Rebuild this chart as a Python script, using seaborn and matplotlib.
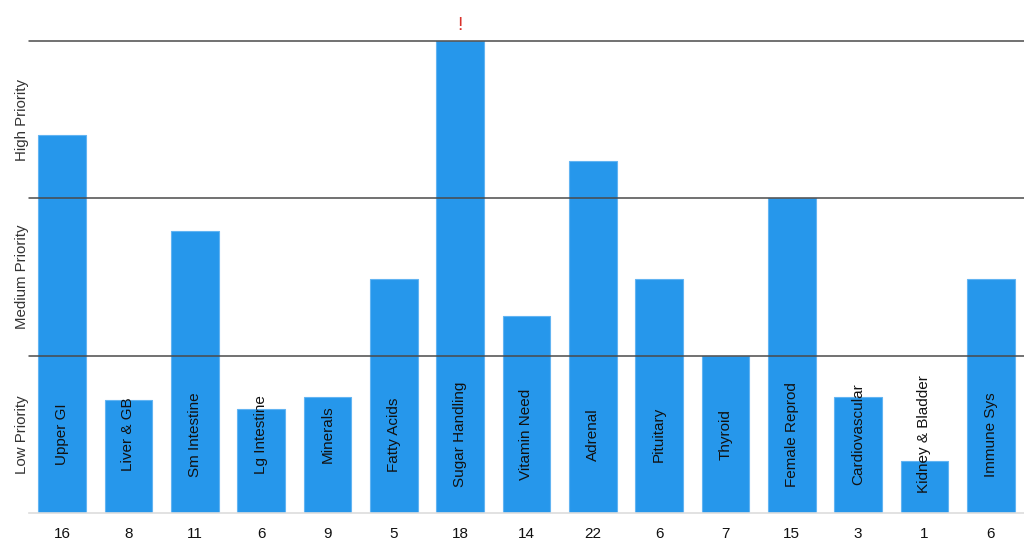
import matplotlib
matplotlib.use("Agg")
import matplotlib.pyplot as plt
import seaborn as sns
import pandas as pd

systems = ["Upper GI", "Liver & GB", "Sm Intestine", "Lg Intestine", "Minerals",
           "Fatty Acids", "Sugar Handling", "Vitamin Need", "Adrenal", "Pituitary",
           "Thyroid", "Female Reprod", "Cardiovascular", "Kidney & Bladder", "Immune Sys"]
scores = [16, 8, 11, 6, 9, 5, 18, 14, 22, 6, 7, 15, 3, 1, 6]
levels = [2.40, 0.72, 1.79, 0.66, 0.74, 1.49, 3.0, 1.25, 2.24, 1.49, 1.0, 2.0, 0.74, 0.33, 1.49]
priority_labels = ["Low Priority", "Medium Priority", "High Priority"]

sns.set_theme(style="white")
plt.rcParams["font.family"] = ["Liberation Sans", "DejaVu Sans"]

df = pd.DataFrame({"system": systems, "level": levels})

fig = plt.figure(figsize=(10.24, 5.51), dpi=100)
ax = fig.add_axes([29 / 1024, 38 / 551, 995 / 1024, 472 / 551])

sns.barplot(data=df, x="system", y="level", color="#2697EB", saturation=1,
            width=0.72, edgecolor="#62B4F2", linewidth=0.8, ax=ax)

ax.set_ylim(0, 3)
ax.set_xlim(-0.5, len(systems) - 0.5)

for y in [1, 2, 3]:
    ax.axhline(y, color="#4a4a4a", linewidth=1.1, zorder=5, clip_on=False)

for s in ["left", "right", "top"]:
    ax.spines[s].set_visible(False)
ax.spines["bottom"].set_color("#dddddd")
ax.spines["bottom"].set_linewidth(1.2)

ax.set_xticks(range(len(systems)))
ax.set_xticklabels([str(s) for s in scores], fontsize=11, color="#111111")
ax.set_yticks([0.5, 1.5, 2.5])
ax.set_yticklabels(priority_labels, rotation=90, va="center", fontsize=10.8, color="#333333")
ax.tick_params(axis="x", length=0, pad=10)
ax.tick_params(axis="y", length=0, pad=0)
ax.set_xlabel("")
ax.set_ylabel("")

for i, name in enumerate(systems):
    ax.text(i, 0.5, name, rotation=90, ha="center", va="center",
            fontsize=11, color="#111111", zorder=6)
    if levels[i] >= 3:
        ax.text(i, 3.045, "!", ha="center", va="bottom", fontsize=14,
                color="#d9312b", clip_on=False)

fig.savefig("out.png", dpi=100)
